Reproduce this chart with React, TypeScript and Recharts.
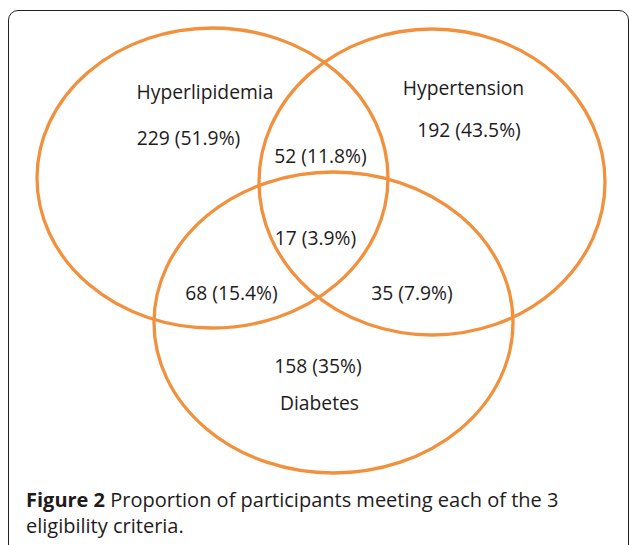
import { ScatterChart, Scatter, XAxis, YAxis } from 'recharts'

// layout space of the diagram (1 unit = 1px of the plot area)
const X_DOMAIN: [number, number] = [0, 629]
const Y_DOMAIN: [number, number] = [0, 480]
const CHART_W = 629
const CHART_H = 480

// the three sets
const SET_NAMES = ['Hyperlipidemia', 'Hypertension', 'Diabetes']
const SET_CX = [212.5, 432, 333.5]
const SET_CY = [178, 182, 322.5]
const SET_RX = [175.5, 173, 179.5]
const SET_RY = [150, 153, 150.5]
const SET_LABEL_X = [205, 463.5, 319.5]
const SET_LABEL_Y = [91, 87, 402]

// regions: only-HL, only-HT, only-DM, HL+HT, HL+DM, HT+DM, all three
const REGION_COUNTS = [229, 192, 158, 52, 68, 35, 17]
const REGION_PCTS = ['51.9', '43.5', '35', '11.8', '15.4', '7.9', '3.9']
const REGION_X = [188.5, 469, 318, 320.5, 231.5, 412, 315.5]
const REGION_Y = [137, 129.5, 365, 155, 292, 292, 237]

const ORANGE = '#F2913D'
const TEXT = '#1E1B1C'
const FONT = '"Open Sans", sans-serif'

const PX_X = CHART_W / (X_DOMAIN[1] - X_DOMAIN[0])
const PX_Y = CHART_H / (Y_DOMAIN[1] - Y_DOMAIN[0])

const sets = SET_NAMES.map((name, i) => ({
  name,
  x: SET_CX[i],
  y: SET_CY[i],
  rx: SET_RX[i],
  ry: SET_RY[i],
}))

const labels = [
  ...SET_NAMES.map((name, i) => ({ text: name, x: SET_LABEL_X[i], y: SET_LABEL_Y[i] })),
  ...REGION_COUNTS.map((n, i) => ({ text: `${n} (${REGION_PCTS[i]}%)`, x: REGION_X[i], y: REGION_Y[i] })),
]

function EllipseShape(props: any) {
  const { cx, cy, payload } = props
  return (
    <ellipse
      cx={cx}
      cy={cy}
      rx={payload.rx * PX_X}
      ry={payload.ry * PX_Y}
      fill="none"
      stroke={ORANGE}
      strokeWidth={3.3}
    />
  )
}

function LabelShape(props: any) {
  const { cx, cy, payload } = props
  return (
    <text
      x={cx}
      y={cy}
      textAnchor="middle"
      dominantBaseline="central"
      fontFamily={FONT}
      fontSize={19.3}
      fill={TEXT}
    >
      {payload.text}
    </text>
  )
}

export default function App() {
  return (
    <div
      style={{
        position: 'absolute',
        left: 0,
        top: 0,
        width: 629,
        height: 545,
        overflow: 'hidden',
        background: '#fff',
      }}
    >
      <div
        style={{
          position: 'absolute',
          left: 8,
          top: 10,
          width: 621,
          height: 600,
          boxSizing: 'border-box',
          border: '1.5px solid #222',
          borderRadius: '10px 10px 0 0',
        }}
      />
      <div style={{ position: 'absolute', left: 0, top: 0 }}>
        <ScatterChart width={CHART_W} height={CHART_H} margin={{ top: 0, right: 0, bottom: 0, left: 0 }}>
          <XAxis type="number" dataKey="x" domain={X_DOMAIN} hide />
          <YAxis type="number" dataKey="y" domain={Y_DOMAIN} reversed hide />
          <Scatter data={sets} shape={EllipseShape} isAnimationActive={false} />
          <Scatter data={labels} shape={LabelShape} isAnimationActive={false} />
        </ScatterChart>
      </div>
      <div
        style={{
          position: 'absolute',
          left: 26,
          top: 487,
          fontFamily: FONT,
          fontSize: 20,
          lineHeight: '26px',
          color: TEXT,
          whiteSpace: 'nowrap',
        }}
      >
        <b>Figure 2</b> Proportion of participants meeting each of the 3
        <br />
        eligibility criteria.
      </div>
    </div>
  )
}
